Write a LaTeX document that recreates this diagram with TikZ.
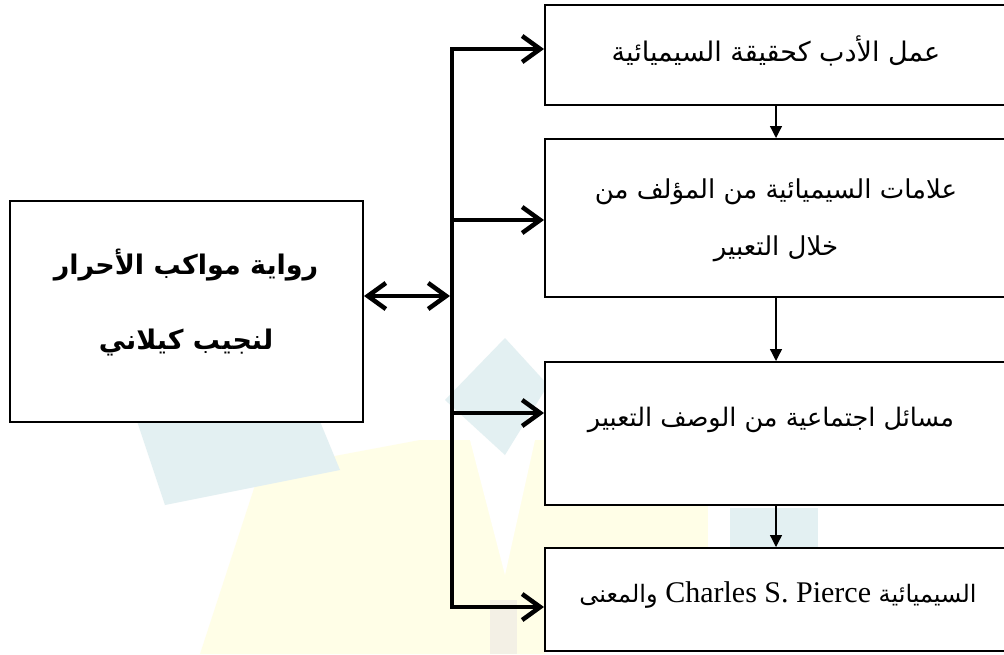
\documentclass[tikz,border=0pt]{standalone}
\usepackage{fontspec}
\TeXXeTstate=1
\newfontfamily\arabicfont[Script=Arabic]{DejaVu Sans}
\newfontfamily\latinfont{Liberation Serif}
\usetikzlibrary{arrows.meta}
\definecolor{wmteal}{RGB}{227,240,242}
\definecolor{wmyellow}{RGB}{255,254,231}
\definecolor{wmbeige}{RGB}{243,240,229}
\begin{document}
\begin{tikzpicture}[x=1pt,y=-1pt,
  rbox/.style={draw, fill=white, line width=2pt, minimum width=462pt, inner sep=0pt},
  lbox/.style={draw, fill=white, line width=2pt, minimum width=353pt, minimum height=221pt, inner sep=0pt},
  rtext/.style={font=\arabicfont\fontsize{26}{57}\selectfont, align=center, inner sep=0pt},
  ltext/.style={font=\arabicfont\bfseries\fontsize{27}{75}\selectfont, align=center, inner sep=0pt},
  bus/.style={line width=4.5pt, line cap=rect},
  branch/.style={line width=4.5pt, -{Straight Barb[length=18pt,width=26pt]}},
  dbl/.style={line width=4.5pt, {Straight Barb[length=18pt,width=26pt]}-{Straight Barb[length=18pt,width=26pt]}},
  small/.style={line width=1.3pt, -{Triangle[length=12pt,width=12pt]}}]
\useasboundingbox (0,0) rectangle (1004,654);
\fill[white] (0,0) rectangle (1004,654);
% faint watermark
\fill[wmyellow] (200,654) -- (260,470) -- (420,440) -- (545,440) -- (545,654) -- cycle;
\fill[white] (470,440) -- (535,440) -- (505,575) -- cycle;
\fill[wmbeige] (490,600) rectangle (517,654);
\fill[wmteal] (130,400) -- (305,385) -- (340,470) -- (165,505) -- cycle;
\fill[wmteal] (505,338) -- (548,385) -- (505,455) -- (445,400) -- cycle;
\fill[wmyellow] (545,505) rectangle (708,548);
\fill[wmteal] (730,508) rectangle (818,548);
% boxes
\node[rbox, minimum height=100pt] (b1) at (776,55) {};
\node[rbox, minimum height=158pt] (b2) at (776,218) {};
\node[rbox, minimum height=143pt] (b3) at (776,433.5) {};
\node[rbox, minimum height=103pt] (b4) at (776,599.5) {};
\node[lbox] (L) at (186.5,311.5) {};
% texts
\node[rtext, font=\arabicfont\fontsize{27}{57}\selectfont] (t1) at (776,51) {\beginR عمل الأدب كحقيقة السيميائية\endR};
\node[rtext] (t2) at (776,220) {\beginR علامات السيميائية من المؤلف من\endR\\\beginR خلال التعبير\endR};
\node[rtext, font=\arabicfont\fontsize{25.5}{57}\selectfont] (t3) at (771,420) {\beginR مسائل اجتماعية من الوصف التعبير\endR};
\node[rtext, font=\arabicfont\fontsize{24}{57}\selectfont] (t4) at (778,595) {\beginR السيميائية \beginL{\latinfont\fontsize{30}{34}\selectfont Charles S. Pierce}\endL{} والمعنى\endR};
\node[ltext] (t5) at (186,303) {\beginR رواية مواكب الأحرار\endR\\\beginR لنجيب كيلاني\endR};
% bus
\coordinate (bt) at (452,49);
\coordinate (bb) at (452,607);
\coordinate (bm) at (452,296);
\coordinate (b2y) at (452,220);
\coordinate (b3y) at (452,413);
\draw[bus] (bt) -- (bb);
\draw[branch] (bt) -- (b1.west |- bt);
\draw[branch] (b2y) -- (b2.west |- b2y);
\draw[branch] (b3y) -- (b3.west |- b3y);
\draw[branch] (bb) -- (b4.west |- bb);
\draw[dbl] (L.east |- bm) -- ([xshift=-2pt]bm);
% small arrows
\draw[small] (b1.south) -- (b2.north);
\draw[small] (b2.south) -- (b3.north);
\draw[small] (b3.south) -- (b4.north);
\end{tikzpicture}
\end{document}
